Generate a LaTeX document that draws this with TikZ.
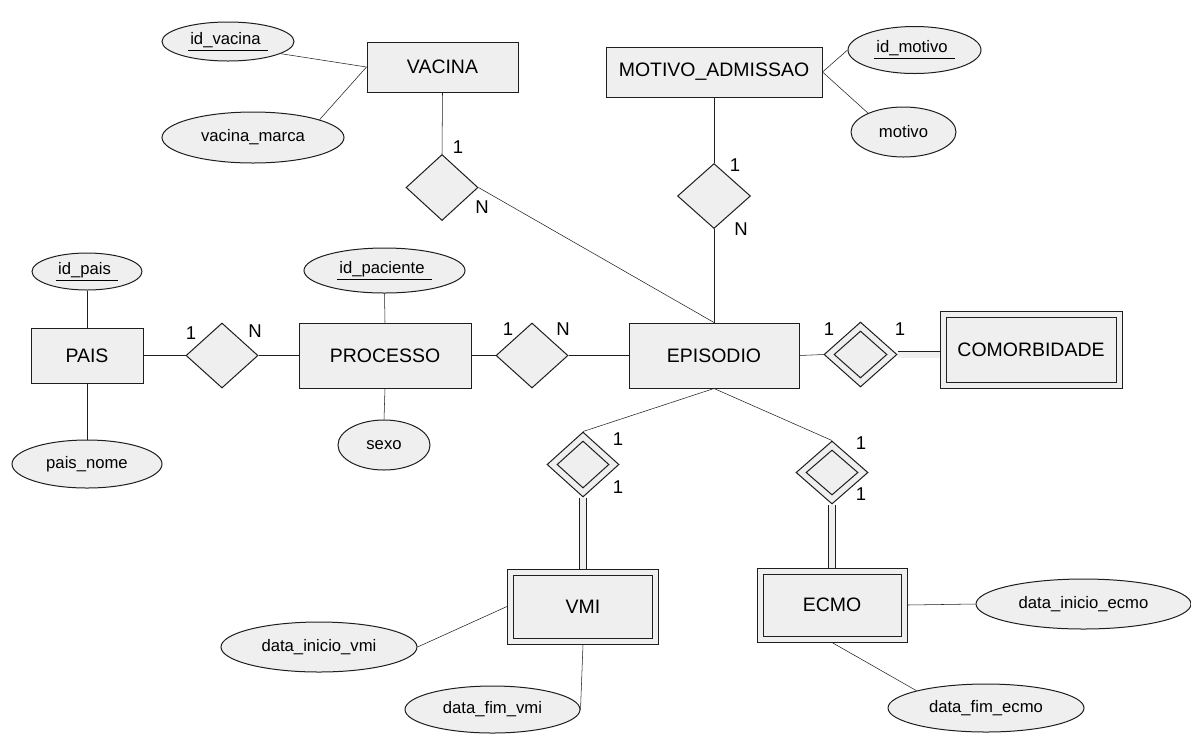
\documentclass[tikz,border=0pt]{standalone}
\usepackage{fontspec}
\setmainfont{Liberation Sans}
\usetikzlibrary{shapes.geometric,backgrounds}
\definecolor{boxgray}{HTML}{EFEFEF}
\definecolor{edge}{HTML}{1E1E1E}

\tikzset{
  wh/.style 2 args={minimum width=#1*0.75pt, minimum height=#2*0.75pt},
  entity/.style={draw=edge, fill=boxgray, rectangle, inner sep=0pt,
                 font=\fontsize{14.6}{17}\selectfont},
  inframe/.style={draw=edge, rectangle, inner sep=0pt},
  rel/.style={draw=edge, fill=boxgray, diamond, inner sep=0pt},
  inrel/.style={draw=edge, diamond, inner sep=0pt},
  attr/.style={draw=edge, fill=boxgray, ellipse, inner sep=0pt,
               font=\fontsize{12.5}{15}\selectfont},
  card/.style={inner sep=0pt, font=\fontsize{13.9}{16}\selectfont},
  link/.style={draw=edge},
  total/.style={draw=edge, double=boxgray, double distance=4.5pt},
}
\newcommand\keyattr[1]{\underline{\vphantom{p}\hspace{0.15em}#1\hspace{0.45em}}}

\begin{document}
\begin{tikzpicture}[x=0.75pt, y=-0.75pt, line width=0.75pt]
\useasboundingbox (0,0) rectangle (1191,733);

% entities
\node[entity, wh={151}{50}] (vac) at (442.5,67) {VACINA};
\node[entity, wh={216}{50}] (mot) at (714,72) {MOTIVO\_ADMISSAO};
\node[entity, wh={112}{55}] (pais) at (87,355.5) {PAIS};
\node[entity, wh={172}{65}] (proc) at (385,355.5) {PROCESSO};
\node[entity, wh={170}{65}] (ep) at (714,355.5) {EPISODIO};

% weak entities (double frame)
\node[entity, wh={182}{77}] (com) at (1031,349.5) {COMORBIDADE};
\node[inframe, wh={170}{65}] (comin) at (com.center) {};
\node[entity, wh={151}{75}] (vmi) at (583,606.5) {VMI};
\node[inframe, wh={139}{63}] (vmiin) at (vmi.center) {};
\node[entity, wh={150}{74}] (ecmo) at (832,605) {ECMO};
\node[inframe, wh={138}{62}] (ecmoin) at (ecmo.center) {};

% relationships
\node[rel, wh={72}{66}] (dvac) at (442,187.5) {};
\node[rel, wh={73}{65}] (dmot) at (714,196) {};
\node[rel, wh={72}{65}] (dpais) at (222,355.5) {};
\node[rel, wh={72}{65}] (dproc) at (532,355.5) {};

% identifying relationships
\node[rel, wh={73}{65}] (dcom) at (860.5,354.5) {};
\node[inrel, wh={53}{47}] (dcomin) at (dcom.center) {};
\node[rel, wh={72}{65}] (dvmi) at (583,464.5) {};
\node[inrel, wh={52}{47}] (dvmiin) at (dvmi.center) {};
\node[rel, wh={72}{63}] (decmo) at (832,472.5) {};
\node[inrel, wh={52}{45}] (decmoin) at (decmo.center) {};

% attributes
\node[attr, wh={132}{39}] (idvac) at (228,41.5) {\keyattr{id\_vacina}};
\node[attr, wh={182}{51}] (vmarca) at (253,137.5) {vacina\_marca};
\node[attr, wh={133}{47}] (idmot) at (914.5,50) {\keyattr{id\_motivo}};
\node[attr, wh={105}{50}] (motivo) at (903.5,132) {motivo};
\node[attr, wh={110}{37}] (idpais) at (87,271.5) {\keyattr{id\_pais}};
\node[attr, wh={150}{48}] (pnome) at (87,464) {pais\_nome};
\node[attr, wh={161}{45}] (idpac) at (384.5,270.5) {\keyattr{id\_paciente}};
\node[attr, wh={92}{50}] (sexo) at (384,445) {sexo};
\node[attr, wh={196}{50}] (divmi) at (319,647) {data\_inicio\_vmi};
\node[attr, wh={175}{47}] (dfvmi) at (492.5,709.5) {data\_fim\_vmi};
\node[attr, wh={215}{50}] (diecmo) at (1083.5,604) {data\_inicio\_ecmo};
\node[attr, wh={196}{48}] (dfecmo) at (986,708) {data\_fim\_ecmo};

% cardinalities
\node[card] (c1) at (458,147) {1};
\node[card] (c2) at (482,207) {N};
\node[card] (c3) at (735,165) {1};
\node[card] (c4) at (741,229) {N};
\node[card] (c5) at (191,333) {1};
\node[card] (c6) at (255,331) {N};
\node[card] (c7) at (508,329) {1};
\node[card] (c8) at (563,329) {N};
\node[card] (c9) at (829,329) {1};
\node[card] (c10) at (900,329) {1};
\node[card] (c11) at (618,439) {1};
\node[card] (c12) at (618,487) {1};
\node[card] (c13) at (861,443) {1};
\node[card] (c14) at (861,494) {1};

% connectors
\begin{pgfonlayer}{background}
  \draw[link] (idvac.-13) -- (vac.west);
  \draw[link] (vmarca.15) -- (vac.west);
  \draw[link] (vac.south) -- (dvac.north);
  \draw[link] (dvac.east) -- (ep.north);

  \draw[link] (mot.east) -- (idmot.west);
  \draw[link] (mot.east) -- (motivo.152);
  \draw[link] (mot.south) -- (dmot.north);
  \draw[link] (dmot.south) -- (ep.north);

  \draw[link] (idpais.south) -- (pais.north);
  \draw[link] (pais.south) -- (pnome.north);
  \draw[link] (pais.east) -- (dpais.west);
  \draw[link] (dpais.east) -- (proc.west);

  \draw[link] (idpac.south) -- (proc.north);
  \draw[link] (proc.south) -- (sexo.north);
  \draw[link] (proc.east) -- (dproc.west);
  \draw[link] (dproc.east) -- (ep.west);

  \draw[link] (ep.east) -- (dcom.west);
  \draw[total] (dcom.east) -- (dcom.east -| com.west);

  \draw[link] (ep.south) -- (dvmi.north);
  \draw[total] (dvmi.south) -- (dvmi.south |- vmi.north);
  \draw[link] (ep.south) -- (decmo.north);
  \draw[total] (decmo.south) -- (decmo.south |- ecmo.north);

  \draw[link] (divmi.east) -- (vmi.west);
  \draw[link] (dfvmi.east) -- (vmi.south);
  \draw[link] (ecmo.east) -- (diecmo.west);
  \draw[link] (ecmo.south) -- (dfecmo.166);
\end{pgfonlayer}
\end{tikzpicture}
\end{document}
